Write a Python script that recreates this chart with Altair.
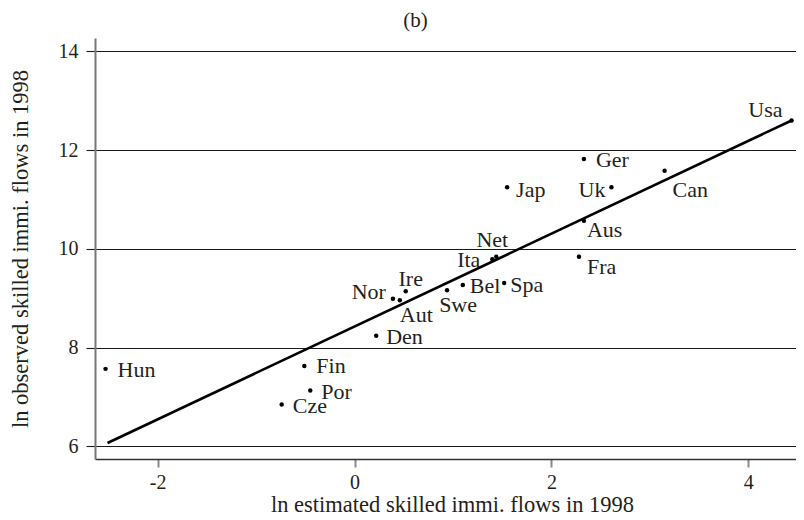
import altair as alt
import pandas as pd

countries = ["Usa", "Ger", "Jap", "Uk", "Can", "Aus", "Fra", "Net", "Ita", "Bel",
             "Spa", "Nor", "Aut", "Ire", "Swe", "Den", "Hun", "Fin", "Por", "Cze"]
estimated = [4.44, 2.33, 1.55, 2.61, 3.15, 2.33, 2.28, 1.44, 1.40, 1.10,
             1.52, 0.39, 0.46, 0.52, 0.94, 0.22, -2.53, -0.51, -0.45, -0.74]
observed = [12.60, 11.82, 11.25, 11.25, 11.58, 10.57, 9.84, 9.84, 9.79, 9.27,
            9.31, 8.99, 8.96, 9.14, 9.16, 8.24, 7.57, 7.63, 7.13, 6.85]

fit_x = [-2.51, 4.44]
fit_y = [6.07, 12.60]

x_ticks = [-2, 0, 2, 4]
y_ticks = [6, 8, 10, 12, 14]

# label placement (pixels) relative to each point: dx, dy, align
label_place = {
    "Usa": (-9, -10, "right"), "Ger": (12, 1, "left"), "Jap": (9, 3, "left"),
    "Uk": (-6, 3, "right"), "Can": (8, 19, "left"), "Aus": (3, 9, "left"),
    "Fra": (8, 10, "left"), "Net": (-4, -17, "center"), "Ita": (-12, 1, "right"),
    "Bel": (7, 1, "left"), "Spa": (6, 2, "left"), "Nor": (-7, -7, "right"),
    "Aut": (0, 15, "left"), "Ire": (5, -12, "center"), "Swe": (11, 15, "center"),
    "Den": (10, 1, "left"), "Hun": (12, 1, "left"), "Fin": (12, 0, "left"),
    "Por": (11, 1, "left"), "Cze": (11, 2, "left"),
}

df = pd.DataFrame({"country": countries, "est": estimated, "obs": observed})
df["ldx"] = [label_place[c][0] for c in countries]
df["ldy"] = [label_place[c][1] for c in countries]
df["lal"] = [label_place[c][2] for c in countries]

fit_df = pd.DataFrame({"est": fit_x, "obs": fit_y})

FONT = "Liberation Serif"
TXT = "#231f20"

xscale = alt.Scale(domain=[-2.637, 4.485], nice=False, zero=False)
yscale = alt.Scale(domain=[5.745, 14.27], nice=False, zero=False)

xenc = alt.X("est:Q", scale=xscale,
             axis=alt.Axis(values=x_ticks, title="ln estimated skilled immi. flows in 1998",
                           labelExpr="'' + datum.value",
                           grid=False, domainColor="#333333", domainWidth=1.3,
                           tickColor="#8a8a8a", tickWidth=2, tickSize=8,
                           labelPadding=5, titlePadding=1, titleX=357))
yenc = alt.Y("obs:Q", scale=yscale,
             axis=alt.Axis(values=y_ticks, title="ln observed skilled immi. flows in 1998",
                           labelExpr="'' + datum.value",
                           grid=True, gridColor="#1a1a1a", gridWidth=1.1, gridOpacity=1,
                           domainColor="#777777", domainWidth=2,
                           tickColor="#1a1a1a", tickWidth=1.1, tickSize=9,
                           labelPadding=8, titlePadding=26))

line = alt.Chart(fit_df).mark_line(color="black", strokeWidth=2.6).encode(x=xenc, y=yenc)
pts = alt.Chart(df).mark_circle(color="black", size=20, opacity=1).encode(x="est:Q", y="obs:Q")
labels = alt.Chart(df).mark_text(
    font=FONT, fontSize=22, color=TXT, baseline="middle",
    dx=alt.expr("datum.ldx"), dy=alt.expr("datum.ldy"), align=alt.expr("datum.lal"),
).encode(x="est:Q", y="obs:Q", text="country:N")

chart = alt.layer(line, pts, labels).properties(
    width=701, height=421,
    autosize=alt.AutoSizeParams(type="none"),
    padding={"left": 87, "top": 30, "right": 0, "bottom": 58},
    title=alt.TitleParams("(b)", anchor="middle", frame="group", dx=-30,
                          font=FONT, fontSize=21, fontWeight="normal", color=TXT, offset=7),
).configure_view(stroke=None).configure_axis(
    labelFont=FONT, titleFont=FONT, labelFontSize=20, titleFontSize=22.5,
    labelColor=TXT, titleColor=TXT, titleFontWeight="normal",
)

chart.save("out.html", embed_options={"renderer": "svg", "actions": False})
